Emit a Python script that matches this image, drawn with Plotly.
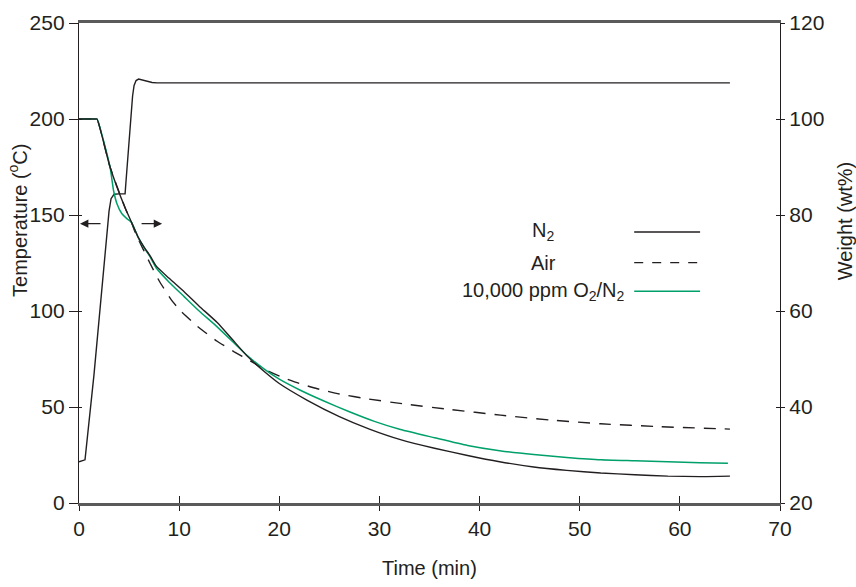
import plotly.graph_objects as go

# ---- data ----
temp_time = [0, 0.6, 1.5, 2.0, 2.5, 3.0, 3.2, 3.5, 4.0, 4.6, 4.7, 5.0, 5.2, 5.35, 5.5, 5.7, 5.95, 6.3, 6.8, 7.3, 7.8, 65]
temp_val = [21.5, 22.5, 67, 95, 123, 152, 158.5, 160.8, 161, 161, 168, 190, 204, 212, 217.5, 220, 220.8, 220.3, 219.5, 219, 218.8, 218.8]

n2_time = [0, 1.65, 1.8, 3.1, 4.6, 5.2, 5.9, 6.5, 7.1, 7.7, 9.0, 10.5, 12.0, 13.8, 15.3, 16.8, 18.5, 20.0, 22.8, 26.0, 29.0,
           32.1, 35.5, 38.8, 42.0, 45.4, 48.7, 52.1, 55.5, 58.8, 62.0, 65.0]
n2_w = [100, 100, 100, 90, 81.5, 78.7, 75.4, 73.3, 71.5, 69.4, 66.8, 64.0, 61.0, 57.6, 54.1, 50.6, 47.4, 44.9, 41.4, 38.0, 35.4,
        33.2, 31.4, 29.9, 28.6, 27.5, 26.8, 26.25, 25.9, 25.6, 25.5, 25.6]

grn_time = [0, 1.65, 1.8, 3.1, 3.45, 3.8, 4.27, 4.8, 5.2, 5.9, 6.5, 7.1, 7.7, 9.0, 10.5, 12.0, 13.8, 15.3, 16.8, 18.5, 20.0,
            22.0, 24.4, 27.0, 29.5, 32.1, 35.5, 38.8, 42.0, 45.4, 48.7, 52.1, 55.5, 58.8, 62.0, 64.8]
grn_w = [100, 100, 100, 90, 85.1, 82.3, 80.3, 79.2, 78.6, 75.4, 73.2, 71.3, 69.0, 66.0, 63.0, 60.0, 56.7, 53.7, 50.7, 47.9, 45.8,
         43.6, 41.3, 39.0, 37.0, 35.3, 33.6, 32.0, 30.9, 30.1, 29.5, 29.0, 28.8, 28.6, 28.4, 28.3]

air_time = [0, 1.65, 1.8, 3.1, 4.6, 5.2, 5.6, 6.4, 7.1, 8.0, 9.1, 10.1, 12.0, 13.8, 15.5, 17.1, 18.7, 20.4, 22.0, 23.8, 26.0,
            28.8, 32.6, 37.0, 42.1, 47.0, 52.1, 58.0, 65.0]
air_w = [100, 100, 100, 90, 81.5, 78.7, 76.4, 72.9, 69.9, 66.3, 62.7, 60.1, 56.5, 53.7, 51.5, 49.6, 47.7, 46.1, 44.9, 43.8, 42.7,
         41.7, 40.6, 39.5, 38.3, 37.3, 36.5, 35.9, 35.4]

x_ticks = [0, 10, 20, 30, 40, 50, 60, 70]
t_ticks = [0, 50, 100, 150, 200, 250]
w_ticks = [20, 40, 60, 80, 100, 120]

legend_labels = ["N<sub>2</sub>", "Air", "10,000 ppm O<sub>2</sub>/N<sub>2</sub>"]
x_title = "Time (min)"
y_title = "Temperature (<sup>o</sup>C)"
y2_title = "Weight (wt%)"

FONT = "Liberation Sans, Arial, Helvetica, sans-serif"
FS = 21
FT = 20
INK = "#231f20"
GREEN = "#00a06a"
AXGRAY = "#5a5a5a"

fig = go.Figure()
fig.add_trace(go.Scatter(x=air_time, y=air_w, yaxis="y2", mode="lines",
                         line=dict(color=INK, width=1.4, dash="12px,9px", shape="spline", smoothing=0.5),
                         showlegend=False))
fig.add_trace(go.Scatter(x=grn_time, y=grn_w, yaxis="y2", mode="lines",
                         line=dict(color=GREEN, width=1.5, shape="spline", smoothing=0.5), showlegend=False))
fig.add_trace(go.Scatter(x=n2_time, y=n2_w, yaxis="y2", mode="lines",
                         line=dict(color=INK, width=1.4, shape="spline", smoothing=0.5), showlegend=False))
fig.add_trace(go.Scatter(x=temp_time, y=temp_val, yaxis="y", mode="lines",
                         line=dict(color=INK, width=1.4), showlegend=False))
# empty traces to register tick-overlay axes
fig.add_trace(go.Scatter(x=[], y=[], xaxis="x2", yaxis="y", showlegend=False))
fig.add_trace(go.Scatter(x=[], y=[], xaxis="x", yaxis="y3", showlegend=False))
fig.add_trace(go.Scatter(x=[], y=[], xaxis="x", yaxis="y4", showlegend=False))

tickfont = dict(family=FONT, size=FS, color=INK)

fig.update_layout(
    width=856, height=587,
    margin=dict(l=79, r=76, t=23, b=84),
    paper_bgcolor="white", plot_bgcolor="white",
    font=dict(family=FONT, size=FS, color=INK),
    xaxis=dict(range=[0, 70], tickvals=x_ticks, ticks="outside", ticklen=5, tickwidth=1, tickcolor=INK,
               showline=True, linecolor=AXGRAY, linewidth=2.5, mirror=True, showgrid=False, zeroline=False,
               automargin=False, tickfont=tickfont),
    xaxis2=dict(range=[0, 70], tickvals=x_ticks, overlaying="x", anchor="y", side="bottom", ticks="inside",
                ticklen=7, tickwidth=1, tickcolor=INK, showticklabels=False, showline=False, showgrid=False,
                zeroline=False, automargin=False),
    yaxis=dict(range=[0, 250], tickvals=t_ticks, ticks="outside", ticklen=9, tickwidth=1, tickcolor=INK,
               showline=True, linecolor=INK, linewidth=1.3, showgrid=False, zeroline=False, automargin=False,
               tickfont=tickfont),
    yaxis2=dict(range=[20, 120], tickvals=w_ticks, overlaying="y", side="right", anchor="x", ticks="outside",
                ticklen=4, tickwidth=1, tickcolor=INK, showline=True, linecolor=INK, linewidth=1.3,
                showgrid=False, zeroline=False, automargin=False, tickfont=tickfont),
    yaxis3=dict(range=[0, 250], tickvals=t_ticks, overlaying="y", side="left", anchor="x", ticks="inside",
                ticklen=3, tickwidth=1, tickcolor=INK, showticklabels=False, showline=False, showgrid=False,
                zeroline=False, automargin=False),
    yaxis4=dict(range=[20, 120], tickvals=w_ticks, overlaying="y", side="right", anchor="x", ticks="inside",
                ticklen=4, tickwidth=1, tickcolor=INK, showticklabels=False, showline=False, showgrid=False,
                zeroline=False, automargin=False),
    showlegend=False,
)

# axis titles
fig.add_annotation(x=0.5, y=-0.136, xref="paper", yref="paper", text=x_title, showarrow=False,
                   xanchor="center", yanchor="middle", font=dict(family=FONT, size=FT, color=INK))
fig.add_annotation(x=-0.0875, y=0.589, xref="paper", yref="paper", text=y_title, showarrow=False,
                   textangle=-90, xanchor="center", yanchor="middle", font=dict(family=FONT, size=FT, color=INK))
fig.add_annotation(x=1.0927, y=0.589, xref="paper", yref="paper", text=y2_title, showarrow=False,
                   textangle=-90, xanchor="center", yanchor="middle", font=dict(family=FONT, size=FT, color=INK))

# arrows indicating which axis each curve uses
fig.add_annotation(x=0.1, y=145.5, ax=2.3, ay=145.5, xref="x", yref="y", axref="x", ayref="y",
                   text="", showarrow=True, arrowhead=2, arrowsize=1.4, arrowwidth=1.2, arrowcolor=INK)
fig.add_annotation(x=8.3, y=145.5, ax=6.1, ay=145.5, xref="x", yref="y", axref="x", ayref="y",
                   text="", showarrow=True, arrowhead=2, arrowsize=1.4, arrowwidth=1.2, arrowcolor=INK)

# custom legend (label left, sample line right)
leg_y = [0.5646, 0.5008, 0.441]
leg_styles = [dict(color=INK, width=1.4), dict(color=INK, width=1.4, dash="9px,9px"), dict(color=GREEN, width=1.5)]
for lab, yy, st in zip(legend_labels, leg_y, leg_styles):
    fig.add_annotation(x=0.662, y=yy, xref="paper", yref="paper", text=lab, showarrow=False,
                       xanchor="center", yanchor="middle", font=dict(family=FONT, size=20, color=INK))
    fig.add_shape(type="line", xref="paper", yref="paper", x0=0.792, x1=0.886, y0=yy, y1=yy, line=st)

fig.write_html("out.html", config={"displayModeBar": False},
               post_script="document.body.style.margin='0';document.body.style.overflow='hidden';")
